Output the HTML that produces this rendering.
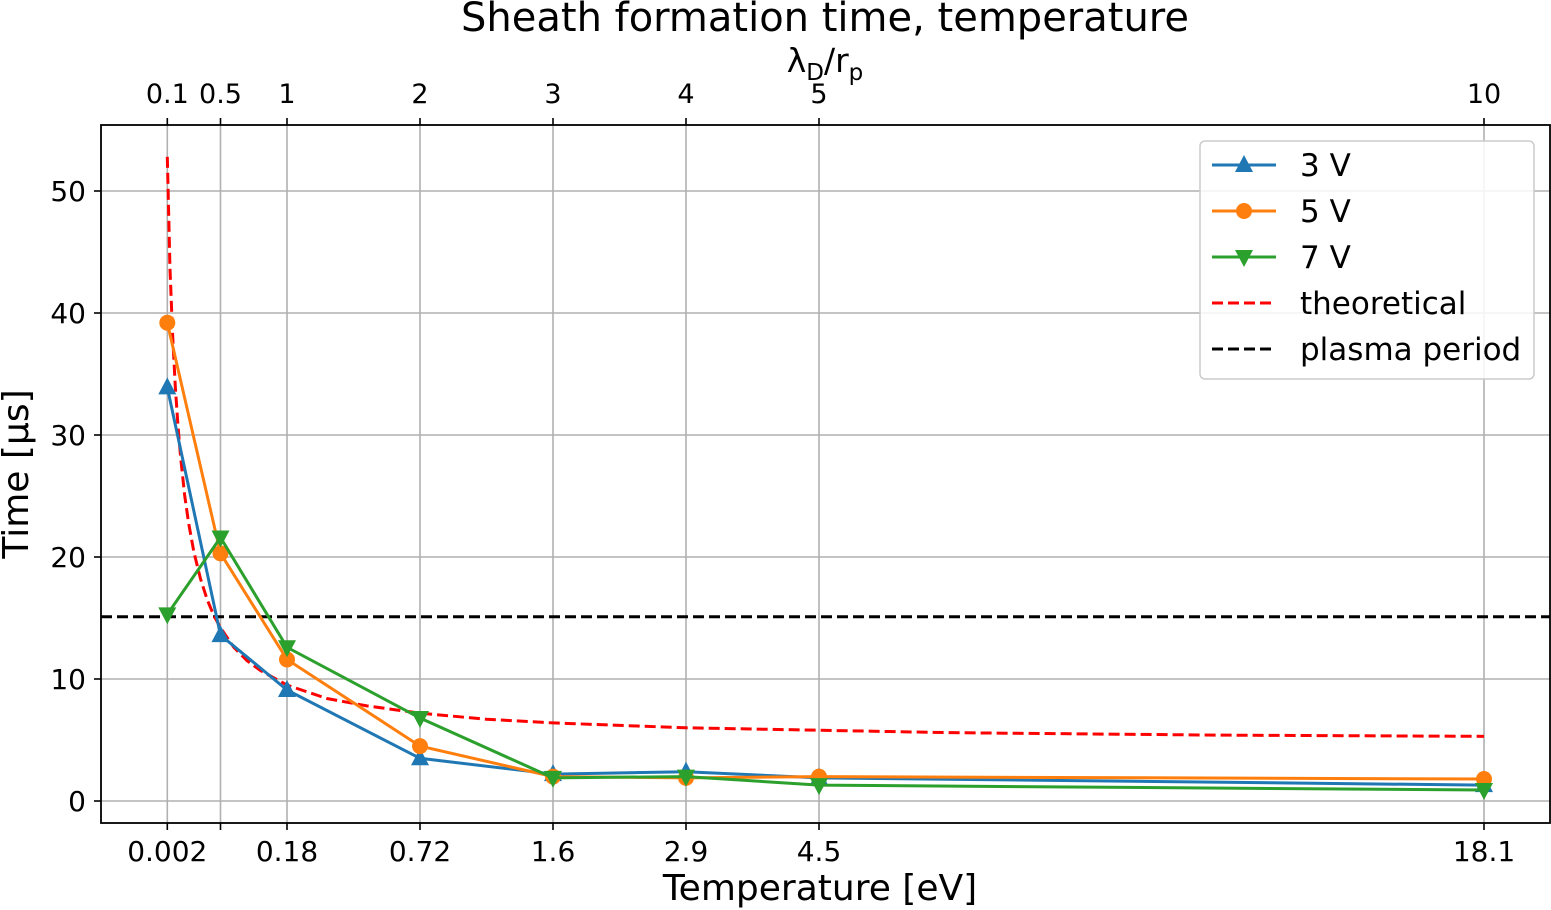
<!DOCTYPE html>
<html><head><meta charset="utf-8"><style>
html,body{margin:0;padding:0;background:#fff;}
svg{display:block;font-family:"DejaVu Sans","Liberation Sans",sans-serif;}
</style></head><body>
<svg id="chart" width="1551" height="910" viewBox="0 0 1551 910" xmlns="http://www.w3.org/2000/svg">
<g id="grid"></g>
<g id="series"></g>
<rect x="101" y="125" width="1449" height="698" fill="none" stroke="#000" stroke-width="1.8"/>
<g id="ticks"></g>
<text x="825" y="31" font-size="40" text-anchor="middle">Sheath formation time, temperature</text>
<text x="825" y="72" font-size="33" text-anchor="middle">λ<tspan font-size="23" dy="8">D</tspan><tspan dy="-8">/r</tspan><tspan font-size="23" dy="8">p</tspan></text>
<text x="820" y="900" font-size="36" text-anchor="middle">Temperature [eV]</text>
<text transform="translate(28,474) rotate(-90)" font-size="36" text-anchor="middle">Time [µs]</text>
<g id="legend">
<rect x="1200" y="141" width="334" height="238" rx="5" fill="#fff" fill-opacity="0.85" stroke="#ccc" stroke-width="1.5"/>
</g>
</svg>
<script>
const lambdaTicks = [0.1, 0.5, 1, 2, 3, 4, 5, 10];
const lambdaLabels = ["0.1","0.5","1","2","3","4","5","10"];
const tempLabels = ["0.002","","0.18","0.72","1.6","2.9","4.5","18.1"];
const yTicks = [0, 10, 20, 30, 40, 50];
const s3V = [33.9, 13.6, 9.1, 3.5, 2.2, 2.4, 1.9, 1.3];
const s5V = [39.2, 20.3, 11.6, 4.5, 2.0, 1.9, 2.0, 1.8];
const s7V = [15.3, 21.6, 12.6, 6.8, 1.9, 2.0, 1.3, 0.9];
const theoX = [0.1,0.12,0.14,0.16,0.18,0.2,0.23,0.26,0.3,0.35,0.4,0.45,0.5,0.6,0.7,0.8,1,1.3,1.6,2,2.5,3,4,5,6,7,8,9,10];
const theoY = [52.8,43.7,38.2,34.0,30.8,28.2,25.1,22.8,20.4,18.2,16.5,15.2,14.2,12.6,11.5,10.7,9.5,8.4,7.8,7.2,6.7,6.4,6.0,5.8,5.6,5.5,5.4,5.35,5.3];
const plasmaPeriod = 15.1;

const NS = "http://www.w3.org/2000/svg";
const X = v => 287 + (v - 1) * 133;
const Y = v => 801 - v * 12.2;
function mk(parent, tag, attrs){const e=document.createElementNS(NS,tag);for(const k in attrs)e.setAttribute(k,attrs[k]);document.getElementById(parent).appendChild(e);return e;}

lambdaTicks.forEach((t,i)=>{
  const g=mk("grid","line",{x1:X(t),x2:X(t),y1:125,y2:823,stroke:"#b0b0b0","stroke-width":1.6});
  
  
  const tb=mk("ticks","line",{x1:X(t),x2:X(t),y1:823,y2:830,stroke:"#000","stroke-width":1.6});
  
  
  const tt=mk("ticks","line",{x1:X(t),x2:X(t),y1:125,y2:118,stroke:"#000","stroke-width":1.6});
  
  
  const lt=mk("ticks","text",{x:X(t),y:103,"font-size":27,"text-anchor":"middle"});
  lt.textContent=lambdaLabels[i];
  
  
  if(tempLabels[i]){
    const lb=mk("ticks","text",{x:X(t),y:861,"font-size":28,"text-anchor":"middle"});
    lb.textContent=tempLabels[i];
    
    
  }
});
yTicks.forEach(t=>{
  const g=mk("grid","line",{x1:101,x2:1550,y1:Y(t),y2:Y(t),stroke:"#b0b0b0","stroke-width":1.6});
  
  
  const tk=mk("ticks","line",{x1:94,x2:101,y1:Y(t),y2:Y(t),stroke:"#000","stroke-width":1.6});
  
  
  const l=mk("ticks","text",{x:86,y:Y(t)+10,"font-size":28,"text-anchor":"end"});
  l.textContent=String(t);
  
  
});

const pp=mk("series","line",{x1:101,x2:1550,y1:Y(plasmaPeriod),y2:Y(plasmaPeriod),stroke:"#000","stroke-width":3,"stroke-dasharray":"11,5"});


const th=mk("series","polyline",{points:theoX.map((x,i)=>X(x)+","+Y(theoY[i])).join(" "),fill:"none",stroke:"#ff0000","stroke-width":3,"stroke-dasharray":"11,5"});



function marker(parent,shape,cx,cy,color){
  let e;
  if(shape==="circle") e=mk(parent,"circle",{cx:cx,cy:cy,r:8,fill:color});
  else if(shape==="up") e=mk(parent,"polygon",{points:`${cx},${cy-10} ${cx-9},${cy+7} ${cx+9},${cy+7}`,fill:color});
  else e=mk(parent,"polygon",{points:`${cx},${cy+10} ${cx-9},${cy-7} ${cx+9},${cy-7}`,fill:color});
  return e;
}
const seriesDefs=[[s3V,"#1f77b4","up","series-3v"],[s5V,"#ff7f0e","circle","series-5v"],[s7V,"#2ca02c","down","series-7v"]];
seriesDefs.forEach(([vals,color,shape,name])=>{
  const pl=mk("series","polyline",{points:lambdaTicks.map((x,i)=>X(x)+","+Y(vals[i])).join(" "),fill:"none",stroke:color,"stroke-width":3});
  
  
  lambdaTicks.forEach((x,i)=>{
    const m=marker("series",shape,X(x),Y(vals[i]),color);
    
    
  });
});

const legendItems=[["3 V","#1f77b4","up",null],["5 V","#ff7f0e","circle",null],["7 V","#2ca02c","down",null],["theoretical","#ff0000",null,"11,5"],["plasma period","#000",null,"11,5"]];
legendItems.forEach(([label,color,shape,dash],i)=>{
  const y=165+i*46;
  const a={x1:1212,x2:1276,y1:y,y2:y,stroke:color,"stroke-width":3};
  if(dash)a["stroke-dasharray"]=dash;
  const l=mk("legend","line",a);
  
  
  if(shape){
    const m=marker("legend",shape,1244,y,color);
    
    
  }
  const t=mk("legend","text",{x:1300,y:y+11,"font-size":31});
  t.textContent=label;
  
  
});
</script>
</body></html>
